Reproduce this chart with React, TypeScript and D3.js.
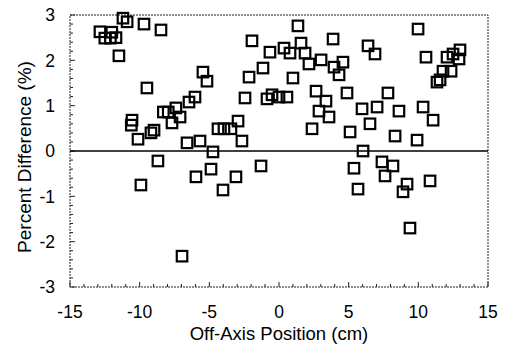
import React from "react";
import * as d3 from "d3";

const xValues = [
  -11.2, -10.9, -9.69, -8.47, -12.85, -12.5, -12.1, -12.0, -11.7, -11.49,
  -9.48, -10.55, -10.6, -10.12, -9.19, -8.97, -8.3, -7.95, -7.4, -7.68,
  -7.1, -6.46, -6.03, -5.46, -5.17, -6.6, -5.67, -4.74, -4.38, -3.95,
  -3.45, -2.94, -2.66, -2.44, -2.15, -1.94, -1.15, -0.65, -0.86, -0.5,
  0.0, 0.57, 0.36, 0.79, 1.36, 1.58, 1.87, 2.15, 3.02, 3.95,
  4.59, 4.31, 3.88, 1.0, 6.39, 6.89, 9.98, 10.55, 12.06, 12.49,
  12.99, 12.92, 11.77, 12.35, 11.34, 11.56, 2.66, 3.37, 2.87, 3.59,
  4.88, 7.82, 5.96, 7.04, 8.61, 10.34, 11.06, 6.53, 2.37, 5.1,
  8.33, 9.91, 6.03, -1.29, 5.38, 7.39, 8.18, 7.61, 9.19, 8.9,
  10.84, 9.4, 5.67, -8.69, -9.91, -5.96, -4.88, -3.09, -4.02, -6.96,
];
const yValues = [
  2.93, 2.85, 2.8, 2.67, 2.63, 2.49, 2.49, 2.62, 2.5, 2.1,
  1.39, 0.68, 0.57, 0.26, 0.4, 0.46, 0.86, 0.86, 0.95, 0.62,
  0.75, 1.08, 1.19, 1.74, 1.54, 0.18, 0.22, -0.02, 0.49, 0.49,
  0.49, 0.66, 0.22, 1.17, 1.63, 2.43, 1.83, 2.18, 1.15, 1.24,
  1.19, 1.19, 2.27, 2.16, 2.76, 2.38, 2.16, 1.92, 2.01, 1.85,
  1.96, 1.68, 2.47, 1.61, 2.32, 2.14, 2.69, 2.07, 2.07, 2.14,
  2.23, 2.03, 1.76, 1.76, 1.52, 1.57, 1.32, 1.1, 0.88, 0.75,
  1.28, 1.28, 0.93, 0.97, 0.88, 0.97, 0.68, 0.6, 0.49, 0.42,
  0.33, 0.24, 0.0, -0.33, -0.38, -0.24, -0.33, -0.55, -0.73, -0.9,
  -0.66, -1.7, -0.84, -0.22, -0.75, -0.57, -0.4, -0.57, -0.86, -2.32,
];
const xTicks = [-15, -10, -5, 0, 5, 10, 15];
const yTicks = [-3, -2, -1, 0, 1, 2, 3];
const xTitle = "Off-Axis Position (cm)";
const yTitle = "Percent Difference (%)";

export default function App() {
  const W = 509, H = 347;
  const left = 70, right = 488, top = 15, bottom = 287;
  const x = d3.scaleLinear().domain([-15, 15]).range([left, right]);
  const y = d3.scaleLinear().domain([-3, 3]).range([bottom, top]);
  const font = "'Liberation Sans', Arial, sans-serif";
  const xMinor = d3.range(-15, 15.001, 1);
  const yMinor = d3.range(-3, 3.001, 0.2);
  const s = 10.5;
  return (
    <svg width={W} height={H} style={{ position: "absolute", left: 0, top: 0, background: "#fff" }}>
      <rect x={left} y={top} width={right - left} height={bottom - top} fill="none" stroke="#222" strokeWidth={1} strokeDasharray="2,1" />
      {xMinor.map((v, i) => {
        const major = Math.abs(v % 5) < 1e-6;
        return <line key={"xm" + i} x1={x(v)} x2={x(v)} y1={bottom} y2={bottom - (major ? 5 : 3)} stroke="#222" strokeWidth={1} />;
      })}
      {yMinor.map((v, i) => {
        const major = Math.abs(v - Math.round(v)) < 1e-6;
        return <line key={"ym" + i} x1={left} x2={left + (major ? 5 : 3)} y1={y(v)} y2={y(v)} stroke="#222" strokeWidth={1} />;
      })}
      <line x1={left} x2={right} y1={y(0)} y2={y(0)} stroke="#000" strokeWidth={1.6} />
      {xValues.map((v, i) => (
        <rect key={"p" + i} x={x(v) - s / 2} y={y(yValues[i]) - s / 2} width={s} height={s} fill="none" stroke="#000" strokeWidth={2.2} />
      ))}
      {xTicks.map((v) => (
        <text key={"xt" + v} x={x(v)} y={318} textAnchor="middle" fontFamily={font} fontSize={17.5} fill="#000">{v}</text>
      ))}
      {yTicks.map((v) => (
        <text key={"yt" + v} x={55} y={y(v) + 6.3} textAnchor="end" fontFamily={font} fontSize={17.5} fill="#000">{v}</text>
      ))}
      <text x={279} y={340} textAnchor="middle" fontFamily={font} fontSize={18.5} fill="#000">{xTitle}</text>
      <text transform={`translate(31,157) rotate(-90)`} textAnchor="middle" fontFamily={font} fontSize={19} fill="#000">{yTitle}</text>
    </svg>
  );
}
